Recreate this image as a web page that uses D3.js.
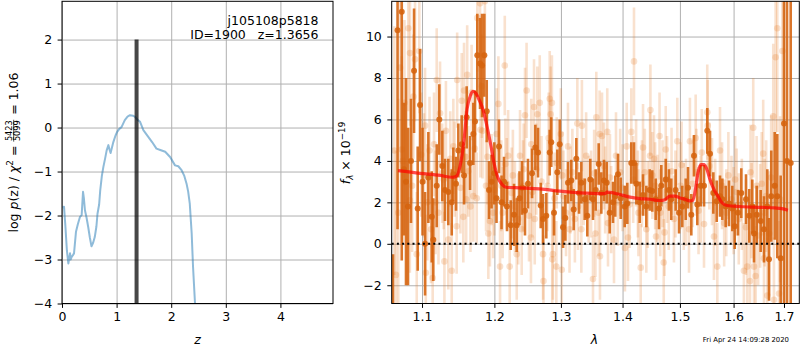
<!DOCTYPE html>
<html>
<head>
<meta charset="utf-8">
<script src="https://cdn.jsdelivr.net/npm/d3@7"></script>
<style>
  body { margin: 0; background: #fff; }
  svg { display: block; font-family: "DejaVu Sans", sans-serif; }
  .grid line { stroke: #b0b0b0; stroke-width: 1; }
  .grid path { display: none; }
  .ax path { display: none; }
  .ax line { stroke: #000; stroke-width: 1; }
  .ax text { font-size: 12.5px; fill: #000; font-family: "DejaVu Sans", sans-serif; }
</style>
</head>
<body>
<script>
//==========================================================================//
//  DATA
//==========================================================================//

// left panel: log p(z) curve
var pzZ   = [0.01, 0.037, 0.06, 0.09, 0.116, 0.135, 0.147, 0.16, 0.177, 0.20, 0.22, 0.256, 0.29, 0.33, 0.36, 0.385, 0.40, 0.42, 0.45, 0.48,
             0.51, 0.54, 0.57, 0.60, 0.63, 0.65, 0.68, 0.70, 0.73, 0.757, 0.79, 0.818, 0.85, 0.87, 0.89, 0.94, 0.98, 1.01, 1.05, 1.09,
             1.15, 1.20, 1.245, 1.30, 1.34, 1.38, 1.43, 1.49, 1.58, 1.65, 1.73, 1.80, 1.89, 1.98, 2.07, 2.13, 2.19, 2.24, 2.28, 2.31,
             2.34, 2.375, 2.40, 2.436, 2.47];
var pzLog = [-1.82, -1.80, -2.2, -2.8, -3.09, -2.95, -2.86, -3.0, -2.94, -2.9, -2.86, -2.37, -2.2, -2.03, -1.99, -1.46, -1.6, -1.88, -2.05, -2.26,
             -2.5, -2.70, -2.62, -2.49, -2.25, -1.96, -1.75, -1.43, -1.1, -0.90, -0.7, -0.52, -0.40, -0.5, -0.58, -0.33, -0.18, -0.10, -0.03, 0.01,
             0.17, 0.25, 0.28, 0.27, 0.24, 0.18, 0.13, -0.06, -0.21, -0.33, -0.48, -0.51, -0.55, -0.67, -0.86, -0.88, -0.97, -1.1, -1.27, -1.45,
             -1.73, -2.41, -3.17, -4.0, -4.8];
var zBest = 1.3656;
var zTicks = [0, 1, 2, 3, 4];
var pTicks = [-4, -3, -2, -1, 0, 1, 2];

// right panel: spectrum points [lambda, flux, err]  (flux in 1e-19)
var darkPoints = [
  [1.0623,-9.0,8.5],[1.0681,10.3,9.6],[1.0735,11.2,12],[1.0764,3.6,3.2],[1.0790,3.0,5.0],[1.0816,1.8,3.8],[1.0855,4.0,3.0],
  [1.0895,8.35,3.0],[1.0943,1.7,3.0],[1.0974,6.7,2.7],[1.1007,3.0,2.6],[1.1040,0.0,2.5],[1.1084,3.2,2.2],[1.1129,1.3,2.2],
  [1.1150,0.2,2.0],[1.1196,2.8,2.0],[1.1231,6.0,1.7],[1.1272,3.75,1.7],[1.1308,2.6,1.5],[1.1353,2.5,1.6],[1.1400,2.0,1.6],
  [1.1422,3.35,1.3],[1.1459,2.9,1.3],[1.1491,4.5,1.3],[1.1538,4.8,1.4],[1.1570,3.3,1.4],[1.1607,6.1,1.5],[1.1654,3.9,1.3],
  [1.1700,5.3,1.5],[1.1724,5.9,1.5],[1.1756,9.1,2.0],[1.1795,8.7,2.2],[1.1823,8.6,2.5],[1.1856,9.1,2.0],[1.1890,6.4,1.5],
  [1.1923,2.6,1.4],[1.1959,3.0,1.3],[1.1999,3.4,1.5],[1.2031,2.2,1.2],[1.2067,4.7,1.3],[1.2104,2.0,1.3],[1.2140,3.0,1.2],
  [1.2184,1.8,1.2],[1.2238,0.9,1.2],[1.2287,1.4,1.5],[1.2327,0.9,1.3],[1.2368,2.2,1.3],[1.2406,2.7,1.3],[1.2450,1.6,1.2],
  [1.2495,2.9,1.2],[1.2556,3.4,1.2],[1.2606,4.65,1.1],[1.2647,4.4,1.2],[1.2688,1.85,1.1],[1.2723,1.2,1.2],[1.2773,1.35,1.1],
  [1.2826,4.4,1.1],[1.2850,4.9,1.2],[1.2892,1.5,1.1],[1.2944,3.45,1.1],[1.2981,4.8,1.2],[1.3033,0.8,1.0],[1.3069,1.25,1.1],
  [1.3111,2.95,1.0],[1.3163,3.05,1.0],[1.3201,1.65,1.0],[1.3243,4.1,1.0],[1.3286,2.45,1.0],[1.3323,2.95,1.0],[1.3377,2.15,1.0],
  [1.3419,1.35,1.0],[1.3467,3.1,1.0],[1.3511,2.15,1.0],[1.3555,2.6,1.0],[1.3604,3.85,1.0],[1.3647,2.45,1.0],[1.3691,3.05,1.0],
  [1.3736,2.95,1.0],[1.3785,1.5,1.0],[1.3840,2.0,1.0],[1.3878,2.3,1.0],[1.3924,3.35,1.0],[1.3969,2.2,1.0],[1.4036,1.8,1.0],
  [1.4080,1.95,1.0],[1.4148,3.9,1.0],[1.4194,3.9,1.0],[1.4234,2.9,1.0],[1.4292,2.0,1.0],[1.4349,2.35,1.0],[1.4406,1.8,1.0],
  [1.4465,2.6,1.0],[1.4510,2.55,1.0],[1.4569,2.15,1.0],[1.4627,1.7,1.0],[1.4668,2.8,1.0],[1.4746,3.1,1.0],[1.4804,2.6,1.0],
  [1.4845,2.15,1.0],[1.4924,2.6,1.0],[1.4984,1.5,1.0],[1.5043,1.8,1.0],[1.5105,2.15,1.0],[1.5147,2.7,1.0],[1.5207,1.4,1.0],
  [1.5256,4.25,1.0],[1.5317,1.9,1.0],[1.5380,2.8,1.0],[1.5441,2.8,1.0],[1.5502,5.45,1.1],[1.5553,4.35,1.1],[1.5615,2.45,1.0],
  [1.5679,2.05,1.0],[1.5741,2.3,1.0],[1.5785,2.15,1.0],[1.5849,1.8,1.0],[1.5912,1.95,1.1],[1.5976,1.7,1.1],[1.6022,0.85,1.1],
  [1.6085,1.5,1.1],[1.6149,2.45,1.2],[1.6241,2.15,1.2],[1.6305,1.35,1.3],[1.6364,1.8,1.3],[1.6398,0.5,1.4],[1.6451,1.4,1.4],
  [1.6530,1.1,1.5],[1.6596,0.7,1.6],[1.6662,1.8,1.8],[1.6696,-0.75,2.0],[1.6742,2.3,2.2],[1.6811,2.8,2.6],[1.6864,2.3,3.0],
  [1.6933,-0.7,4.0],[1.7000,5.8,9.0],[1.7062,4.0,12],[1.7138,3.9,15]
];

var lightPoints = [
  [1.0640,4.5,6.0],[1.0660,-1.5,6.0],[1.0690,1.5,5.5],[1.0713,8.5,5.0],[1.0735,4.55,4.5],[1.0750,4.0,4.0],[1.0770,6.8,4.0],
  [1.0820,10.4,4.0],[1.0840,2.1,3.5],[1.0842,9.2,3.5],[1.0870,2.8,3.2],[1.0886,7.1,3.0],[1.0908,8.9,3.0],[1.0930,-0.5,3.0],
  [1.0964,9.3,3.0],[1.0990,4.3,3.0],[1.1025,3.3,3.0],[1.1040,5.7,2.8],[1.1050,-1.4,2.8],[1.1070,2.0,2.8],[1.1100,4.5,2.6],
  [1.1120,0.7,2.6],[1.1142,-1.65,2.5],[1.1160,4.8,2.5],[1.1180,2.0,2.5],[1.1196,7.9,2.5],[1.1220,1.5,2.5],[1.1241,6.3,2.5],
  [1.1270,3.4,2.4],[1.1290,3.1,2.4],[1.1300,-0.85,2.4],[1.1321,5.45,2.4],[1.1353,0.2,2.4],[1.1380,4.1,2.3],[1.1400,-1.3,2.3],
  [1.1422,4.7,2.3],[1.1440,3.6,2.3],[1.1468,0.85,2.3],[1.1475,7.9,2.3],[1.1520,2.7,2.2],[1.1538,6.9,2.3],[1.1560,1.3,2.2],
  [1.1570,7.4,2.3],[1.1590,4.2,2.2],[1.1600,2.15,2.2],[1.1614,8.15,2.4],[1.1630,3.5,2.2],[1.1660,1.8,2.2],[1.1676,7.3,2.3],
  [1.1700,2.3,2.2],[1.1720,4.6,2.3],[1.1748,2.2,2.2],[1.1756,10.9,2.6],[1.1795,11.6,2.8],[1.1800,5.5,2.3],[1.1820,7.6,2.5],
  [1.1830,5.45,2.3],[1.1864,11.7,2.8],[1.1880,2.8,2.2],[1.1900,4.2,2.3],[1.1913,0.5,2.2],[1.1936,1.1,2.2],[1.1960,3.1,2.2],
  [1.1982,1.5,2.2],[1.2000,2.6,2.2],[1.2033,5.3,2.2],[1.2058,6.75,2.3],[1.2082,-1.1,2.2],[1.2100,2.8,2.2],[1.2120,1.5,2.2],
  [1.2151,8.6,2.4],[1.2160,3.85,2.2],[1.2180,2.9,2.2],[1.2200,4.25,2.2],[1.2223,-1.1,2.2],[1.2252,2.45,2.2],[1.2270,3.3,2.2],
  [1.2300,1.8,2.2],[1.2327,-0.5,2.2],[1.2350,1.2,2.2],[1.2376,4.25,2.2],[1.2401,0.7,2.2],[1.2420,2.8,2.2],[1.2430,3.6,2.2],
  [1.2450,6.2,2.3],[1.2474,7.4,2.3],[1.2510,1.35,2.2],[1.2540,0.3,2.2],[1.2545,4.8,2.2],[1.2560,2.5,2.2],[1.2586,6.6,2.3],
  [1.2597,1.2,2.2],[1.2620,3.6,2.2],[1.2636,6.25,2.3],[1.2673,6.8,2.3],[1.2700,3.0,2.2],[1.2723,-0.5,2.2],[1.2730,-1.8,2.2],
  [1.2790,2.8,2.2],[1.2810,5.1,2.2],[1.2826,7.0,2.3],[1.2840,6.25,2.3],[1.2860,6.8,2.3],[1.2865,-0.75,2.2],[1.2875,-0.5,2.2],
  [1.2900,2.2,2.2],[1.2928,-1.1,2.2],[1.2935,3.9,2.2],[1.2998,5.3,2.2],[1.3013,-1.25,2.2],[1.3020,3.3,2.1],[1.3040,2.3,2.2],
  [1.3080,1.5,2.1],[1.3111,4.7,2.1],[1.3135,0.7,2.1],[1.3150,2.6,2.1],[1.3180,3.45,2.1],[1.3220,1.2,2.1],[1.3259,5.8,2.2],
  [1.3270,1.8,2.1],[1.3323,0.7,2.1],[1.3332,5.7,2.2],[1.3360,3.0,2.1],[1.3400,4.25,2.1],[1.3440,2.15,2.1],[1.3480,2.4,2.1],
  [1.3511,-1.7,2.1],[1.3530,3.4,2.1],[1.3550,0.5,2.1],[1.3565,6.1,2.2],[1.3600,1.5,2.1],[1.3619,5.3,2.1],[1.3625,-0.6,2.1],
  [1.3658,5.2,2.1],[1.3690,3.75,2.1],[1.3710,2.6,2.1],[1.3745,5.4,2.1],[1.3757,1.0,2.1],[1.3790,3.2,2.1],[1.3810,1.65,2.1],
  [1.3857,0.2,2.1],[1.3890,4.25,2.1],[1.3920,2.0,2.1],[1.3960,3.45,2.1],[1.4000,2.7,2.1],[1.4040,-0.2,2.1],[1.4070,4.7,2.1],
  [1.4092,0.3,2.1],[1.4120,1.9,2.1],[1.4148,5.4,2.1],[1.4180,3.1,2.1],[1.4194,8.8,2.6],[1.4230,3.9,2.1],[1.4260,2.4,2.1],
  [1.4270,1.5,2.1],[1.4309,-1.15,2.1],[1.4330,2.9,2.1],[1.4349,4.65,2.1],[1.4380,3.45,2.1],[1.4406,0.7,2.1],[1.4430,1.9,2.1],
  [1.4470,4.25,2.1],[1.4477,6.45,2.2],[1.4510,3.3,2.1],[1.4540,4.1,2.1],[1.4560,2.8,2.1],[1.4575,0.35,2.1],[1.4600,2.2,2.1],
  [1.4637,5.2,2.1],[1.4650,1.5,2.1],[1.4690,2.9,2.1],[1.4711,-0.9,2.1],[1.4725,0.55,2.1],[1.4746,4.55,2.1],[1.4770,3.1,2.1],
  [1.4800,1.8,2.1],[1.4850,3.5,2.1],[1.4893,1.2,2.1],[1.4920,2.4,2.1],[1.4953,4.95,2.1],[1.5010,2.8,2.1],[1.5030,3.8,2.1],
  [1.5070,1.8,2.1],[1.5110,2.0,2.1],[1.5165,0.7,2.1],[1.5182,4.95,2.1],[1.5230,2.9,2.1],[1.5287,5.1,2.1],[1.5300,3.45,2.1],
  [1.5340,1.6,2.1],[1.5380,2.15,2.1],[1.5400,4.4,2.1],[1.5441,0.95,2.1],[1.5502,6.35,2.3],[1.5510,5.7,2.2],[1.5540,3.75,2.1],
  [1.5590,3.0,2.1],[1.5627,0.35,2.1],[1.5650,2.0,2.1],[1.5690,-1.1,2.1],[1.5741,4.5,2.1],[1.5780,2.8,2.1],[1.5820,1.0,2.1],
  [1.5860,1.5,2.1],[1.5900,3.3,2.1],[1.5960,2.15,2.1],[1.6000,1.6,2.1],[1.6030,3.1,2.1],[1.6060,2.5,2.1],[1.6100,1.2,2.2],
  [1.6160,1.9,2.2],[1.6200,-1.3,2.3],[1.6240,0.8,2.3],[1.6265,-1.1,2.3],[1.6319,-1.8,2.4],[1.6330,3.45,2.3],[1.6350,1.6,2.3],
  [1.6383,5.6,2.4],[1.6398,-1.1,2.4],[1.6430,-1.55,2.4],[1.6450,2.8,2.4],[1.6480,0.4,2.4],[1.6520,1.35,2.5],[1.6550,2.9,2.5],
  [1.6580,4.35,2.6],[1.6596,-0.7,2.6],[1.6610,1.5,2.6],[1.6640,2.3,2.7],[1.6662,-2.5,2.8],[1.6700,0.5,3.0],[1.6740,3.2,3.0],
  [1.6782,6.15,3.5],[1.6796,-2.7,3.0],[1.6830,9.0,4.5],[1.6864,10.4,5.0],[1.6900,-2.4,3.5],[1.6920,2.15,4.0],[1.6967,9.3,6.0]
];

// best-fit model
var modelLam  = [1.0687, 1.0974, 1.1241, 1.1404, 1.1459, 1.1514, 1.1570, 1.1612, 1.1654, 1.1696, 1.1738, 1.1781, 1.1838, 1.1894,
                 1.1952, 1.1995, 1.2053, 1.2111, 1.2169, 1.2376, 1.2677, 1.2985, 1.3301, 1.3624, 1.3707, 1.3740, 1.3823, 1.3956,
                 1.4125, 1.4296, 1.4469, 1.4644, 1.4732, 1.4821, 1.4911, 1.5001, 1.5091, 1.5182, 1.5237, 1.5292, 1.5329, 1.5384,
                 1.5440, 1.5496, 1.5552, 1.5627, 1.5702, 1.5778, 1.5873, 1.6123, 1.6515, 1.6815, 1.6957, 1.7080];
var modelFlux = [3.53, 3.40, 3.30, 3.21, 3.25, 3.74, 5.00, 6.50, 7.10, 7.35, 7.25, 6.95, 6.47, 5.67,
                 4.70, 3.90, 3.18, 2.86, 2.73, 2.70, 2.65, 2.54, 2.46, 2.42, 2.42, 2.49, 2.47, 2.38,
                 2.25, 2.18, 2.15, 2.09, 2.13, 2.30, 2.30, 2.21, 2.15, 2.07, 2.10, 2.78, 3.42, 3.82,
                 3.82, 3.58, 3.10, 2.62, 2.30, 1.98, 1.85, 1.80, 1.76, 1.73, 1.70, 1.62];

var lamTicks  = [1.1, 1.2, 1.3, 1.4, 1.5, 1.6, 1.7];
var fluxTicks = [-2, 0, 2, 4, 6, 8, 10];

var objName = "j105108p5818";
var objInfo = "ID=1900   z=1.3656";
var stamp   = "Fri Apr 24 14:09:28 2020";

//==========================================================================//
//  SETUP
//==========================================================================//

var width = 800, height = 350;
var top_ = 1.3, bot = 303.5;

var svg = d3.select("body").append("svg")
    .attr("width", width)
    .attr("height", height);

// left axes box
var zX = d3.scaleLinear().domain([0, 4.963]).range([62, 333]);
var pY = d3.scaleLinear().domain([-4, 2.87]).range([bot, top_]);

// right axes box (log wavelength)
var lX = d3.scaleLog().domain([1.0606, 1.7316]).range([391.7, 799.3]);
var fY = d3.scaleLinear().domain([-2.88, 11.7]).range([bot, top_]);

var defs = svg.append("defs");
defs.append("clipPath").attr("id", "clipL").append("rect")
    .attr("x", 62).attr("y", top_).attr("width", 333 - 62).attr("height", bot - top_);
defs.append("clipPath").attr("id", "clipR").append("rect")
    .attr("x", 391.7).attr("y", top_).attr("width", 799.3 - 391.7).attr("height", bot - top_);

//==========================================================================//
//  LEFT PANEL: p(z)
//==========================================================================//

// gridlines
svg.append("g").attr("class", "grid")
    .attr("transform", "translate(0," + bot + ")")
    .call(d3.axisBottom(zX).tickValues(zTicks).tickSize(-(bot - top_)).tickFormat(""));
svg.append("g").attr("class", "grid")
    .attr("transform", "translate(62,0)")
    .call(d3.axisLeft(pY).tickValues(pTicks).tickSize(-(333 - 62)).tickFormat(""));

var pzData = pzZ.map(function(z, i) { return [z, pzLog[i]]; });

svg.append("path")
    .datum(pzData)
    .attr("clip-path", "url(#clipL)")
    .attr("fill", "none")
    .attr("stroke", "#1f77b4")
    .attr("stroke-opacity", 0.5)
    .attr("stroke-width", 2)
    .attr("stroke-linejoin", "round")
    .attr("d", d3.line().x(function(d) { return zX(d[0]); }).y(function(d) { return pY(d[1]); }));

// best redshift marker
svg.append("line")
    .attr("x1", zX(zBest)).attr("x2", zX(zBest))
    .attr("y1", pY(2)).attr("y2", pY(-4))
    .attr("stroke", "#000")
    .attr("stroke-opacity", 0.72)
    .attr("stroke-width", 4);

// axes
svg.append("g").attr("class", "ax")
    .attr("transform", "translate(0," + bot + ")")
    .call(d3.axisBottom(zX).tickValues(zTicks).tickSize(4.4).tickPadding(4.5).tickFormat(d3.format("d")));
svg.append("g").attr("class", "ax")
    .attr("transform", "translate(62,0)")
    .call(d3.axisLeft(pY).tickValues(pTicks).tickSize(4.4).tickPadding(5.5).tickFormat(d3.format("d")));

svg.append("rect")
    .attr("x", 62).attr("y", top_).attr("width", 333 - 62).attr("height", bot - top_)
    .attr("fill", "none").attr("stroke", "#000").attr("stroke-width", 1);

// object labels
svg.append("text").attr("x", 318.5).attr("y", 24.5).attr("text-anchor", "end")
    .style("font-size", "12.5px").text(objName);
svg.append("text").attr("x", 318.5).attr("y", 39).attr("text-anchor", "end")
    .style("font-size", "12.5px").style("white-space", "pre").text(objInfo);

// x label
svg.append("text").attr("x", 197.5).attr("y", 343.5).attr("text-anchor", "middle")
    .style("font-size", "12.5px").style("font-style", "italic").text("z");

//==========================================================================//
//  RIGHT PANEL: spectrum
//==========================================================================//

svg.append("g").attr("class", "grid")
    .attr("transform", "translate(0," + bot + ")")
    .call(d3.axisBottom(lX).tickValues(lamTicks).tickSize(-(bot - top_)).tickFormat(""));
svg.append("g").attr("class", "grid")
    .attr("transform", "translate(391.7,0)")
    .call(d3.axisLeft(fY).tickValues(fluxTicks).tickSize(-(799.3 - 391.7)).tickFormat(""));

var specG = svg.append("g").attr("clip-path", "url(#clipR)");

// error bars + markers for one set of points
function drawErr(g, data, color, op, rad, lw) {
    g.selectAll(null)
        .data(data)
        .join("line")
            .attr("x1", function(d) { return lX(d[0]); })
            .attr("x2", function(d) { return lX(d[0]); })
            .attr("y1", function(d) { return fY(d[1] - d[2]); })
            .attr("y2", function(d) { return fY(d[1] + d[2]); })
            .attr("stroke", color)
            .attr("stroke-opacity", op)
            .attr("stroke-width", lw);
    g.selectAll(null)
        .data(data)
        .join("circle")
            .attr("cx", function(d) { return lX(d[0]); })
            .attr("cy", function(d) { return fY(d[1]); })
            .attr("r", rad)
            .attr("fill", color)
            .attr("fill-opacity", op);
}

drawErr(specG.append("g"), lightPoints, "#e2761e", 0.22, 3.3, 2.6);
drawErr(specG.append("g"), darkPoints, "#d5630e", 0.88, 3.0, 2.6);

// model
var modelData = modelLam.map(function(l, i) { return [l, modelFlux[i]]; });
specG.append("path")
    .datum(modelData)
    .attr("fill", "none")
    .attr("stroke", "#ff0000")
    .attr("stroke-opacity", 0.7)
    .attr("stroke-width", 3.2)
    .attr("stroke-linejoin", "round")
    .attr("d", d3.line().curve(d3.curveMonotoneX)
        .x(function(d) { return lX(d[0]); }).y(function(d) { return fY(d[1]); }));

// zero line
svg.append("line")
    .attr("x1", 391.7).attr("x2", 799.3)
    .attr("y1", fY(0)).attr("y2", fY(0))
    .attr("stroke", "#000")
    .attr("stroke-width", 2)
    .attr("stroke-dasharray", "2,3.2");

svg.append("g").attr("class", "ax")
    .attr("transform", "translate(0," + bot + ")")
    .call(d3.axisBottom(lX).tickValues(lamTicks).tickSize(4.4).tickPadding(4.5).tickFormat(d3.format(".1f")));
svg.append("g").attr("class", "ax")
    .attr("transform", "translate(391.7,0)")
    .call(d3.axisLeft(fY).tickValues(fluxTicks).tickSize(4.4).tickPadding(5.5).tickFormat(d3.format("d")));

svg.append("rect")
    .attr("x", 391.7).attr("y", top_).attr("width", 799.3 - 391.7).attr("height", bot - top_)
    .attr("fill", "none").attr("stroke", "#000").attr("stroke-width", 1);

svg.append("text").attr("x", 594.5).attr("y", 343.5).attr("text-anchor", "middle")
    .style("font-size", "12.5px").style("font-style", "italic").text("λ");

svg.append("text").attr("x", 789).attr("y", 342).attr("text-anchor", "end")
    .style("font-size", "6.9px").text(stamp);

//==========================================================================//
//  Y LABELS (rotated, with math pieces)
//==========================================================================//

// lay out a list of pieces along a rotated baseline, centred on (cx, cy)
function mathLabel(cx, cy, pieces) {
    var g = svg.append("g").attr("transform", "translate(" + cx + "," + cy + ") rotate(-90)");
    var inner = g.append("g");
    var cur = 0;
    pieces.forEach(function(p) {
        if (p.frac) {
            var n = inner.append("text").style("font-size", p.size + "px").attr("y", p.ny).text(p.frac[0]);
            var d = inner.append("text").style("font-size", p.size + "px").attr("y", p.dy2).text(p.frac[1]);
            var w = Math.max(n.node().getComputedTextLength(), d.node().getComputedTextLength()) + 1;
            n.attr("x", cur + w / 2).attr("text-anchor", "middle");
            d.attr("x", cur + w / 2).attr("text-anchor", "middle");
            inner.append("line").attr("x1", cur).attr("x2", cur + w)
                .attr("y1", p.by).attr("y2", p.by).attr("stroke", "#000").attr("stroke-width", 0.7);
            cur += w + 1;
        } else {
            var t = inner.append("text")
                .attr("x", cur).attr("y", p.dy || 0)
                .style("font-size", (p.size || 12.5) + "px")
                .style("font-style", p.it ? "italic" : "normal")
                .style("white-space", "pre")
                .text(p.t);
            cur += t.node().getComputedTextLength();
        }
    });
    inner.attr("transform", "translate(" + (-cur / 2) + ",0)");
}

mathLabel(17.5, 152.5, [
    {t: "log "},
    {t: "p", it: true},
    {t: "(z) / "},
    {t: "χ", it: true},
    {t: "2", size: 8.8, dy: -5},
    {t: " = "},
    {frac: ["5423", "5099"], size: 8.2, ny: -5.2, dy2: 2.6, by: -3.8},
    {t: " = 1.06"}
]);

mathLabel(350, 153, [
    {t: "f", it: true},
    {t: "λ", it: true, size: 8.8, dy: 2.5},
    {t: " × 10"},
    {t: "−19", size: 8.8, dy: -5}
]);
</script>
</body>
</html>
